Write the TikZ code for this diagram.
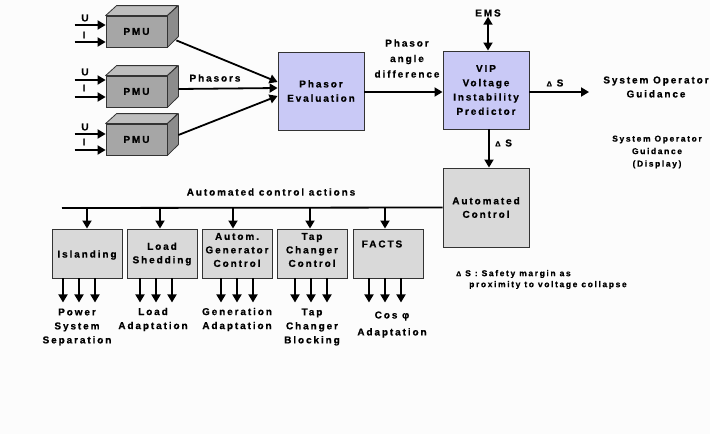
\documentclass[tikz,border=0pt]{standalone}
\usepackage{fontspec}
\setmainfont{Liberation Sans}[LetterSpace=19,BoldFeatures={FakeBold=0.6}]
\usetikzlibrary{arrows.meta,calc}

\definecolor{bgcol}{RGB}{252,252,252}
\definecolor{edge}{RGB}{51,51,51}
\definecolor{lav}{RGB}{201,201,246}
\definecolor{boxgray}{RGB}{217,217,217}
\definecolor{pmufrontc}{RGB}{166,166,166}
\definecolor{pmutopc}{RGB}{190,190,190}
\definecolor{pmusidec}{RGB}{140,140,140}

% a PMU drawn as a cuboid: front face is the named node
\newcommand\pmubox[3]{%
  \node[pmufront] (#1) at (#2,#3) {PMU};
  \filldraw[fill=pmutopc, draw=edge, line width=0.8pt, line join=round]
    (#1.north west) -- ++(11,-10) -- ++(61,0) -- (#1.north east) -- cycle;
  \filldraw[fill=pmusidec, draw=edge, line width=0.8pt, line join=round]
    (#1.north east) -- ++(11,-10) -- ++(0,31) -- (#1.south east) -- cycle;
}

\begin{document}
\begin{tikzpicture}[x=1pt,y=-1pt,
  lbl/.style={font=\bfseries\fontsize{10}{14}\selectfont, inner sep=0pt, align=center},
  small/.style={font=\bfseries\fontsize{8.5}{12.5}\selectfont, inner sep=0pt, align=center},
  pmufront/.style={draw=edge, fill=pmufrontc, line width=0.8pt, minimum width=61pt,
    minimum height=31pt, inner sep=0pt, font=\bfseries\fontsize{10}{12}\selectfont},
  mainblock/.style={draw=edge, fill=lav, line width=0.9pt, minimum width=86pt,
    minimum height=78pt, inner sep=0pt, align=center, font=\bfseries\fontsize{10}{14.3}\selectfont},
  actblock/.style={draw=edge, fill=boxgray, line width=0.9pt, minimum width=70pt,
    minimum height=49pt, inner sep=0pt, align=center, font=\bfseries\fontsize{10}{13.5}\selectfont},
  acttext/.style={lbl, font=\bfseries\fontsize{10}{13.5}\selectfont},
  conn/.style={line width=1.8pt, -{Triangle[length=8pt,width=9pt]}},
  biconn/.style={line width=1.8pt, {Triangle[length=8pt,width=9pt]}-{Triangle[length=8pt,width=9pt]}},
  plain/.style={line width=1.8pt}
]
\fill[bgcol] (0,0) rectangle (710,434);
\useasboundingbox (0,0) rectangle (710,434);

% ---------- measurement units ----------
\pmubox{p1}{136.5}{31.5}
\pmubox{p2}{136.5}{91.5}
\pmubox{p3}{136.5}{139.5}

% voltage / current inputs
\draw[conn] ($(p1.west)+(-31,-6.5)$) -- ($(p1.west)+(0,-6.5)$);
\draw[conn] ($(p1.west)+(-31,10.5)$) -- ($(p1.west)+(0,10.5)$);
\node[lbl] (u1) at (85,18) {U};
\node[lbl] (i1) at (84,35) {I};
\draw[conn] ($(p2.west)+(-31,-11.5)$) -- ($(p2.west)+(0,-11.5)$);
\draw[conn] ($(p2.west)+(-31,5.5)$) -- ($(p2.west)+(0,5.5)$);
\node[lbl] (u2) at (85,72) {U};
\node[lbl] (i2) at (84,88) {I};
\draw[conn] ($(p3.west)+(-31,-5.5)$) -- ($(p3.west)+(0,-5.5)$);
\draw[conn] ($(p3.west)+(-31,10.5)$) -- ($(p3.west)+(0,10.5)$);
\node[lbl] (u3) at (85,127) {U};
\node[lbl] (i3) at (84,142) {I};

% ---------- evaluation and prediction ----------
\node[mainblock] (pe) at (321,91) {Phasor\\Evaluation};
\node[mainblock] (vip) at (486,90) {VIP\\Voltage\\Instability\\Predictor};

\draw[conn] ($(p1.south east)+(9,-7)$) -- ($(pe.west)+(0,-9)$);
\draw[conn] ($(p2.east)+(11,-2.5)$) -- ($(pe.west)+(0,-3)$);
\draw[conn] ($(p3.east)+(11,-4.5)$) -- ($(pe.west)+(0,5)$);
\node[lbl] (phasors) at (215,78) {Phasors};

\draw[conn] ($(pe.east)+(0,1)$) -- ($(vip.west)+(0,2)$);
\node[lbl, font=\bfseries\fontsize{10}{15.5}\selectfont] (pad) at (407,58.5) {Phasor\\angle\\difference};

\node[lbl] (ems) at (488,13) {EMS};
\draw[biconn] (ems.south) -- (ems.south |- vip.north);

\coordinate (sogend) at (589,92);
\draw[conn] ($(vip.east)+(0,2)$) -- (sogend);
\node[lbl] (ds1) at (555,83) {{\fontsize{7.5}{9}\selectfont Δ} S};
\node[lbl] (sog) at (656,87) {System Operator\\Guidance};
\node[small] (sogd) at (657,152) {System Operator\\Guidance\\(Display)};

% ---------- automated control ----------
\node[actblock, minimum width=86pt, minimum height=79pt] (ac) at (486,207.5) {Automated\\Control};
\draw[conn] ($(vip.south)+(3,0)$) -- ($(ac.north)+(3,0)$);
\node[lbl, anchor=west] (ds2) at (495,143) {{\fontsize{7.5}{9}\selectfont Δ} S};

\coordinate (busend) at (62,208);
\draw[plain] (ac.west) -- (busend);
\node[lbl] (aca) at (271,192) {Automated control actions};

% action blocks and their captions
\node[actblock] (isl) at (87,253.5) {};
\node[actblock] (lsh) at (162,253.5) {};
\node[actblock] (agc) at (237,253.5) {};
\node[actblock] (tcc) at (312,253.5) {};
\node[actblock] (fct) at (388,253.5) {};
\node[acttext] (islt) at ($(isl)+(0,1.5)$) {Islanding};
\node[acttext] (lsht) at ($(lsh)+(0,0.5)$) {Load\\Shedding};
\node[acttext] (agct) at ($(agc)+(0,-3.5)$) {Autom.\\Generator\\Control};
\node[acttext] (tcct) at ($(tcc)+(0,-3.5)$) {Tap\\Changer\\Control};
\node[acttext] (fctt) at ($(fct)+(-6,-9.5)$) {FACTS};

\foreach \b/\dx in {isl/0, lsh/-2, agc/-4, tcc/-2, fct/-3}{
  \draw[conn] ($(\b.north)+(\dx,-21)$) -- ($(\b.north)+(\dx,0)$);
}
\foreach \b/\dx in {isl/-8, lsh/-6, agc/0, tcc/-1, fct/-3}{
  \foreach \k in {-16,0,16}{
    \draw[conn] ($(\b.south)+(\dx+\k,0)$) -- ($(\b.south)+(\dx+\k,24)$);
  }
}

\node[lbl] (pss) at (77,327) {Power\\System\\Separation};
\node[lbl] (lad) at (153,319.5) {Load\\Adaptation};
\node[lbl] (gad) at (237,319.5) {Generation\\Adaptation};
\node[lbl] (tcb) at (312,327) {Tap\\Changer\\Blocking};
\node[lbl, font=\bfseries\fontsize{10}{17}\selectfont] (cad) at (392,324.5) {Cos φ\\Adaptation};

% ---------- legend ----------
\node[small, anchor=west, font=\bfseries\fontsize{8.5}{10}\selectfont] (leg1) at (456,274) {{\fontsize{7}{8}\selectfont Δ} S : Safety margin as};
\node[small, anchor=west, font=\bfseries\fontsize{8.5}{10}\selectfont] (leg2) at (469,285) {proximity to voltage collapse};
\end{tikzpicture}
\end{document}
